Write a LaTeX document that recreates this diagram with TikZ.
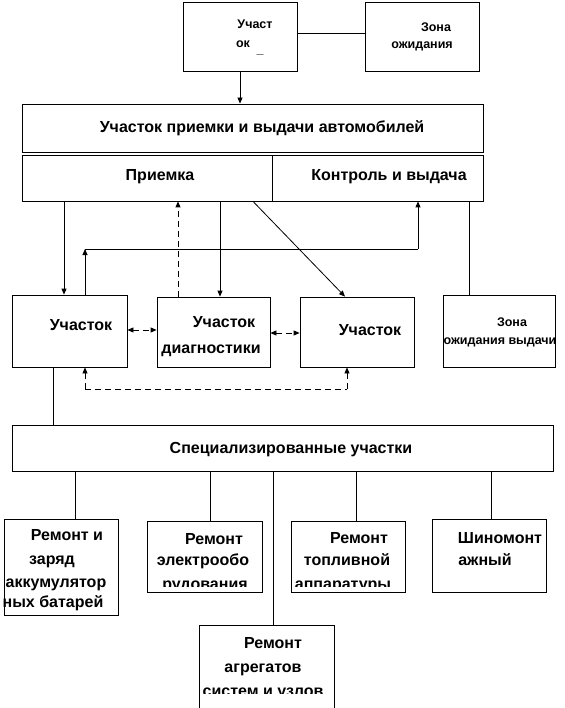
\documentclass[tikz,border=0pt]{standalone}
\usepackage{fontspec}
\setmainfont{Liberation Sans}
\usetikzlibrary{arrows.meta}
\tikzset{
  box/.style={draw, line width=0.8pt, rectangle, inner sep=0pt},
  lbl/.style={inner sep=0pt, anchor=base, font=\bfseries\fontsize{16}{18}\selectfont},
  sml/.style={inner sep=0pt, anchor=base, font=\bfseries\fontsize{12.5}{14}\selectfont},
  ln/.style={line width=0.8pt},
  arr/.style={line width=0.8pt, -{Triangle[length=6pt,width=5pt]}},
  darr/.style={line width=0.8pt, dash pattern=on 6pt off 4pt, -{Triangle[length=6pt,width=5pt]}},
  ddarr/.style={line width=0.8pt, dash pattern=on 6pt off 4pt, {Triangle[length=6pt,width=5pt]}-{Triangle[length=6pt,width=5pt]}}
}
\newcommand{\bx}[5]{\node[box, minimum width=#4pt, minimum height=#5pt] (#1) at (#2+#4/2, #3+#5/2) {};}
\begin{document}
\begin{tikzpicture}[x=1pt,y=-1pt]
\useasboundingbox (0,0) rectangle (564,708);
% top boxes
\bx{top}{183}{2}{114}{69}
\bx{zona}{365}{2}{114}{69}
\node[sml] (topA) at (255,29) {Участ};
\node[sml] (topB) at (243,48) {ок};
\node[sml, anchor=center] (topC) at (260,54) {\_};
\node[sml] (zonaA) at (436,32) {Зона};
\node[sml] (zonaB) at (422,49) {ожидания};
% main
\bx{main}{22}{104}{461}{48}
\node[lbl] (mainT) at (262,133) {Участок приемки и выдачи автомобилей};
\bx{priem}{22}{155}{250}{46}
\bx{kontr}{272}{155}{211}{46}
\node[lbl] (priemT) at (160,181) {Приемка};
\node[lbl] (kontrT) at (389,181) {Контроль и выдача};
% middle row
\bx{u1}{12}{295}{115}{72}
\bx{diag}{157}{297}{113}{70}
\bx{u3}{300}{297}{114}{70}
\bx{zv}{443}{295}{112}{72}
\node[lbl] (u1T) at (81,330) {Участок};
\node[lbl] (diagA) at (224,327) {Участок};
\node[lbl] (diagB) at (211,353) {диагностики};
\node[lbl] (u3T) at (370,335) {Участок};
\node[sml] (zvA) at (512,326) {Зона};
\node[sml] (zvB) at (500,344) {ожидания выдачи};
% specialized
\bx{spec}{12}{425}{541}{46}
\node[lbl] (specT) at (291,453) {Специализированные участки};
% bottom boxes
\bx{b1}{4}{519}{114}{96}
\bx{b2}{147}{521}{115}{71}
\bx{b3}{291}{521}{114}{71}
\bx{b4}{432}{519}{114}{73}
\bx{b5}{199}{625}{135}{83}
\node[lbl] (b1A) at (67,540) {Ремонт и};
\node[lbl] (b1B) at (52,564) {заряд};
\node[lbl] (b1C) at (56,587) {аккумулятор};
\node[lbl] (b1D) at (53,607) {ных батарей};
\begin{scope}
\clip (147,521) rectangle (262,586);
\node[lbl] (b2A) at (214,544) {Ремонт};
\node[lbl] (b2B) at (203,565) {электрообо};
\node[lbl] (b2C) at (205,589) {рудования};
\end{scope}
\begin{scope}
\clip (291,521) rectangle (405,586);
\node[lbl] (b3A) at (359,543) {Ремонт};
\node[lbl] (b3B) at (347,565) {топливной};
\node[lbl] (b3C) at (343,589) {аппаратуры};
\end{scope}
\node[lbl] (b4A) at (500,543) {Шиномонт};
\node[lbl] (b4B) at (485,565) {ажный};
\begin{scope}
\clip (199,625) rectangle (334,693);
\node[lbl] (b5A) at (273,648) {Ремонт};
\node[lbl] (b5B) at (263,672) {агрегатов};
\node[lbl] (b5C) at (263,696) {систем и узлов};
\end{scope}
% connectors
\draw[ln] (top.east |- 0,33) -- (zona.west |- 0,33);
\draw[arr] (top.south -| 240,0) -- (main.north -| 240,0);
\draw[arr] (priem.south -| 64,0) -- (u1.north -| 64,0);
\coordinate (c1) at (85,249);
\coordinate (c2) at (418,249);
\draw[arr] (u1.north -| c1) -- (c1);
\draw[ln] (c1) -- (c2);
\draw[arr] (c2) -- (kontr.south -| c2);
\draw[darr] (diag.north -| 178,0) -- (priem.south -| 178,0);
\draw[arr] (priem.south -| 220,0) -- (diag.north -| 220,0);
\draw[arr] (priem.south -| 253,0) -- (u3.north -| 345,0);
\draw[ln] (kontr.south -| 469,0) -- (zv.north -| 469,0);
\draw[ddarr] (u1.east |- 0,330) -- (diag.west |- 0,330);
\draw[ddarr] (diag.east |- 0,333) -- (u3.west |- 0,333);
\coordinate (d1) at (85,389);
\coordinate (d2) at (347,389);
\draw[darr] (d1) -- (u1.south -| d1);
\draw[ln, dash pattern=on 6pt off 4pt] (d1) -- (d2);
\draw[darr] (d2) -- (u3.south -| d2);
\draw[ln] (u1.south -| 53,0) -- (spec.north -| 53,0);
\draw[ln] (spec.south -| 75,0) -- (b1.north -| 75,0);
\draw[ln] (spec.south -| 210,0) -- (b2.north -| 210,0);
\draw[ln] (spec.south -| 273,0) -- (b5.north -| 273,0);
\draw[ln] (spec.south -| 356,0) -- (b3.north -| 356,0);
\draw[ln] (spec.south -| 491,0) -- (b4.north -| 491,0);
\end{tikzpicture}
\end{document}
